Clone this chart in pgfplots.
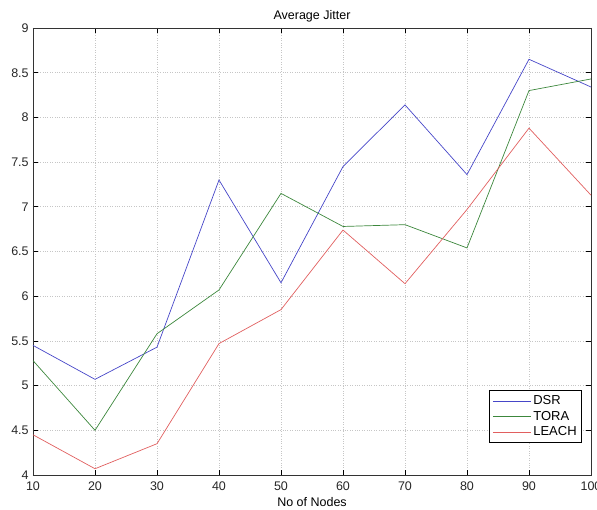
\documentclass[border=0pt]{standalone}
\usepackage{pgfplots}
\pgfplotsset{compat=1.18}
\usepackage{fontspec}
\setmainfont{Liberation Sans}
\definecolor{cblue}{RGB}{70,70,200}
\definecolor{cgreen}{RGB}{60,135,60}
\definecolor{cred}{RGB}{225,95,95}
\begin{document}
\fontsize{12.5}{14}\selectfont
\begin{tikzpicture}
\begin{axis}[
  at={(0,0)}, anchor=south west,
  scale only axis, width=558pt, height=447pt,
  xmin=10, xmax=100, ymin=4, ymax=9,
  xtick={10,20,...,100}, ytick={4,4.5,...,9},
  yticklabels={4,4.5,5,5.5,6,6.5,7,7.5,8,8.5,9},
  /pgf/number format/assume math mode=true,
  tick align=inside, major tick length=5pt,
  tick style={black, line width=0.6pt},
  axis line style={black!80, line width=0.8pt},
  grid=major,
  grid style={dotted, gray!45, line width=0.7pt},
  title={Average Jitter},
  title style={yshift=-4pt, font=\fontsize{12.5}{14}\selectfont},
  xlabel={No of Nodes},
  xlabel style={yshift=1pt, font=\fontsize{12.5}{14}\selectfont},
  ticklabel style={font=\fontsize{12.5}{14}\selectfont, text=black!85},
  xticklabel style={yshift=-2pt},
  legend cell align=left,
  legend style={at={(0.984,0.0716)}, anchor=south east, draw=black, line width=0.8pt,
    font=\fontsize{13}{15}\selectfont, inner sep=3pt, row sep=0.5pt},
  legend image code/.code={\draw[#1] plot coordinates {(0pt,0pt) (19pt,0pt) (38pt,0pt)};},
]
\addplot[cblue, line width=0.7pt] coordinates {
(10,5.45) (20,5.07) (30,5.43) (40,7.30) (50,6.15) (60,7.45) (70,8.14) (80,7.36) (90,8.65) (100,8.34)};
\addlegendentry{DSR}
\addplot[cgreen, line width=0.7pt] coordinates {
(10,5.28) (20,4.50) (30,5.58) (40,6.07) (50,7.15) (60,6.78) (70,6.80) (80,6.54) (90,8.30) (100,8.43)};
\addlegendentry{TORA}
\addplot[cred, line width=0.7pt] coordinates {
(10,4.45) (20,4.07) (30,4.35) (40,5.47) (50,5.85) (60,6.74) (70,6.14) (80,6.97) (90,7.88) (100,7.13)};
\addlegendentry{LEACH}
\end{axis}
\pgfresetboundingbox
\path (-33pt,-34pt) rectangle (564pt,475pt);
\end{tikzpicture}
\end{document}
